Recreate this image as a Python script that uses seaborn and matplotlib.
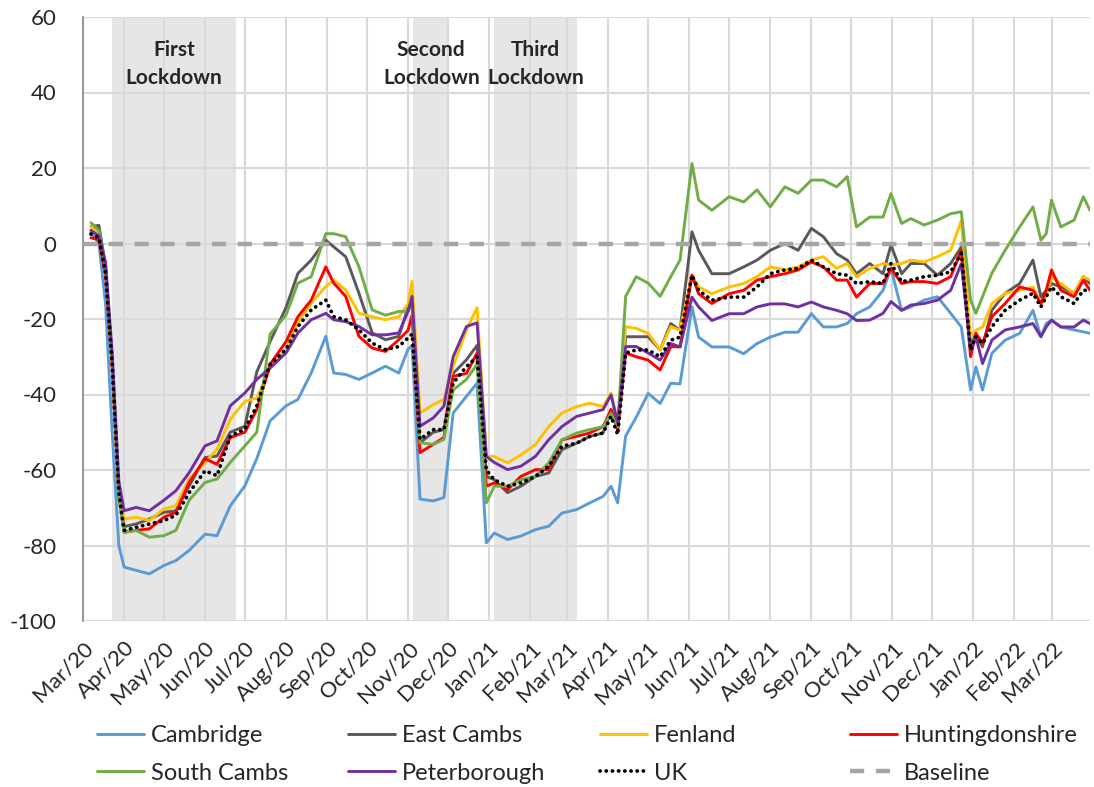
import matplotlib
matplotlib.use("Agg")
import pandas as pd
import seaborn as sns
import matplotlib.pyplot as plt
import matplotlib.dates as mdates

# Mobility change vs baseline (%)
dates = pd.to_datetime([
    "2020-03-07", "2020-03-13", "2020-03-18", "2020-03-23", "2020-03-28", "2020-04-01",
    "2020-04-10", "2020-04-20", "2020-05-01", "2020-05-10", "2020-05-20", "2020-06-01",
    "2020-06-10", "2020-06-20", "2020-07-01", "2020-07-10", "2020-07-20", "2020-08-01",
    "2020-08-10", "2020-08-20", "2020-08-31", "2020-09-06", "2020-09-15", "2020-09-25",
    "2020-10-05", "2020-10-15", "2020-10-25", "2020-11-01", "2020-11-04", "2020-11-10",
    "2020-11-20", "2020-11-28", "2020-12-05", "2020-12-15", "2020-12-23", "2020-12-30",
    "2021-01-05", "2021-01-15", "2021-01-25", "2021-02-05", "2021-02-15", "2021-02-25",
    "2021-03-08", "2021-03-18", "2021-03-28", "2021-04-03", "2021-04-08", "2021-04-14",
    "2021-04-22", "2021-05-01", "2021-05-10", "2021-05-18", "2021-05-25", "2021-06-03",
    "2021-06-08", "2021-06-18", "2021-07-01", "2021-07-12", "2021-07-22", "2021-08-01",
    "2021-08-12", "2021-08-22", "2021-09-01", "2021-09-10", "2021-09-20", "2021-09-28",
    "2021-10-05", "2021-10-15", "2021-10-25", "2021-10-31", "2021-11-08", "2021-11-15",
    "2021-11-25", "2021-12-05", "2021-12-15", "2021-12-23", "2021-12-30", "2022-01-03",
    "2022-01-08", "2022-01-15", "2022-01-25", "2022-02-05", "2022-02-15", "2022-02-21",
    "2022-02-25", "2022-03-01", "2022-03-08", "2022-03-18", "2022-03-25", "2022-03-30",
])

cambridge = [3, 0, -16, -50, -80, -85.7, -86.6, -87.5, -85.3, -84, -81.3, -77,
             -77.4, -69.5, -64.2, -57, -47, -43, -41.3, -34.3, -24.6, -34.3, -34.7, -36,
             -34.3, -32.5, -34.3, -28, -27, -67.7, -68.2, -67.3, -44.9, -40.5, -37, -79.3,
             -76.7, -78.4, -77.5, -75.8, -74.9, -71.4, -70.5, -68.7, -67, -64.3, -68.7, -51,
             -46, -39.7, -42.4, -37, -37.2, -16.8, -24.8, -27.4, -27.4, -29.2, -26.5, -24.8,
             -23.5, -23.5, -18.6, -22.1, -22.1, -21.2, -18.6, -16.8, -12.4, -6.6, -17.7, -16.8,
             -15, -14.1, -18.5, -22.1, -38.8, -32.7, -38.8, -29.1, -25.6, -23.8, -17.7, -24.7,
             -21.2, -20.3, -22.1, -22.9, -23.4, -23.8]
east_cambs = [4.5, 4.8, -6, -31, -66, -75, -74.3, -73, -71.2, -70.8, -64.2, -56.7,
              -56.3, -50, -48.4, -34, -26, -17, -7.9, -4.4, 0.9, -0.9, -3.5, -13.2,
              -23.7, -25.5, -24.6, -17, -15, -52.8, -50, -49.3, -34.4, -30.8, -27, -61.7,
              -62.6, -66, -64.3, -61.7, -60.8, -54.6, -52.9, -51.1, -50.2, -44, -49.3, -24.7,
              -24.7, -24.7, -28.2, -21.2, -23, 3.1, -1.8, -8, -8, -6.2, -4.4, -1.8,
              0, -1.8, 4, 1.8, -2.7, -4.4, -8, -5.3, -8, -0.4, -8, -5.3,
              -5.3, -8.4, -5.3, -0.9, -27.4, -23.8, -27.4, -17.7, -13.2, -10.6, -4.4, -14.1,
              -12.4, -10.6, -11.5, -13.2, -8.8, -10.6]
fenland = [4.5, 3, -6, -31, -65, -73, -72.5, -73.4, -70.3, -69.5, -62.4, -58,
           -54.5, -46.6, -41.8, -41, -33, -28, -21, -15.8, -11.4, -9.7, -12.3, -18.5,
           -19.4, -20.2, -19.4, -16, -10, -44.9, -42.7, -41.3, -32.6, -22.9, -17, -56.4,
           -56.4, -58.1, -56, -53.3, -48.5, -44.9, -43.2, -42.3, -43.2, -39.6, -47.5, -22,
           -22.5, -23.8, -28.2, -22, -23, -8.4, -11.5, -13.3, -11.5, -10.6, -8.8, -6.2,
           -7, -6.2, -4.4, -3.5, -6.6, -5.3, -8.8, -6.6, -5.3, -5.7, -5.3, -4.4,
           -4.9, -3.5, -1.8, 6, -24.7, -23, -22.1, -15.9, -13.2, -12.4, -11.5, -15.9,
           -14.1, -8.8, -10.6, -13.2, -8.8, -9.7]
huntingdonshire = [1.5, 1, -8, -33, -67, -76.5, -76, -75.6, -72.5, -71.2, -63.3, -57,
                   -58.5, -51.4, -50, -44, -32, -26, -19.4, -15, -6.2, -10.5, -14, -24.6,
                   -27.7, -28.6, -25.5, -23, -19, -55.4, -53.2, -51.4, -35.2, -34.4, -29, -64.3,
                   -63.4, -65.2, -61.7, -59.9, -59.9, -52, -51.1, -50.2, -48.5, -44, -49.3, -29,
                   -30, -30.9, -33.5, -27.3, -27.4, -8.4, -13.3, -15.9, -13.3, -12.4, -9.7, -8.8,
                   -8, -7, -4.9, -6.2, -9.7, -9.7, -14.2, -10.6, -10.6, -6.6, -10.6, -10.1,
                   -10.1, -10.6, -8.8, -1.8, -30, -23.8, -26.5, -19.4, -15.9, -11.5, -12.4, -15.9,
                   -12.4, -7, -12.4, -14.1, -9.7, -12.4]
south_cambs = [5.5, 3.5, -6, -32, -67, -76.5, -76, -77.8, -77.4, -76, -68, -63.3,
               -62.4, -58, -53.6, -50, -24, -19, -10.5, -8.8, 2.6, 2.6, 1.8, -6.2,
               -17.6, -19, -18, -18, -16, -52.8, -53.2, -51.9, -38.8, -36, -32, -68.7,
               -64.3, -64.3, -62.6, -61.7, -58.1, -52, -50.2, -49.3, -48.5, -45, -48.5, -14,
               -8.8, -10.5, -14, -8.8, -4.4, 21.2, 11.5, 8.8, 12.4, 11, 14.2, 9.7,
               15, 13.3, 16.8, 16.8, 15, 17.7, 4.4, 7, 7, 13.2, 5.3, 6.6,
               4.9, 6.2, 7.9, 8.4, -15, -18.5, -14.1, -7.9, -1.8, 4.4, 9.7, 0.9,
               2.6, 11.5, 4.4, 6.2, 12.4, 8.8]
peterborough = [3.5, 2, -5, -29, -63, -70.8, -69.9, -70.8, -68, -65.5, -60.7, -53.6,
                -52.3, -43, -39.6, -36, -33, -29, -23.7, -20.2, -18.5, -20.2, -20.7, -22,
                -24.2, -24.2, -23.7, -18, -14, -48.4, -46.2, -43.1, -30, -22, -21, -56.4,
                -58, -59.9, -59, -56.4, -52, -48.5, -45.8, -44.9, -44, -40.1, -47.5, -27.3,
                -27.3, -29, -30.9, -26.5, -27.4, -14.2, -16.8, -20.4, -18.6, -18.6, -16.8, -16,
                -16, -16.8, -15.5, -16.8, -17.7, -18.6, -20.4, -20.3, -18.5, -15.4, -17.7, -16.3,
                -15.9, -15, -12.4, -5.3, -28.2, -24.7, -31.8, -25.6, -22.9, -22.1, -21.2, -24.7,
                -22.1, -20.3, -22.1, -22.1, -20.3, -21.2]
uk = [2.5, 1.5, -8, -32, -66, -76, -75.2, -74.3, -73.4, -72, -66, -60.2,
      -61.5, -51, -49.2, -43, -32, -28, -22, -17.6, -15, -19.4, -20.2, -22.9,
      -26.4, -28.1, -27.3, -25, -24, -51.9, -49.3, -49.3, -37, -32.6, -30, -60,
      -62.6, -64.3, -63.4, -61.7, -59, -53.7, -52.9, -51.1, -50.2, -45.8, -50.6, -29,
      -28.2, -28.2, -30, -25.6, -24.8, -8.4, -12.4, -15, -14.2, -14.2, -11.5, -8,
      -7, -6.6, -4.4, -6.2, -8, -8.4, -10.6, -10.1, -10.6, -5.3, -10.1, -9.7,
      -8.8, -8.4, -7.5, -2.6, -28.2, -24.7, -26.5, -22.1, -17.7, -15, -13.2, -16.8,
      -14.1, -11.5, -14.1, -15.9, -12.4, -12.4]
baseline = 0

names = ["Cambridge", "East Cambs", "Fenland", "Huntingdonshire", "South Cambs", "Peterborough", "UK"]
values = [cambridge, east_cambs, fenland, huntingdonshire, south_cambs, peterborough, uk]
colors = ["#5B9BD5", "#595959", "#FFC000", "#FF0000", "#70AD47", "#7030A0", "black"]

lockdowns = [("First\nLockdown", "2020-03-23", "2020-06-24"),
             ("Second\nLockdown", "2020-11-05", "2020-12-02"),
             ("Third\nLockdown", "2021-01-05", "2021-03-08")]

sns.set_style("white")
plt.rcParams['font.family'] = ['Lato', 'DejaVu Sans']
plt.rcParams['axes.unicode_minus'] = False

fig = plt.figure(figsize=(10.94, 7.87), dpi=100)
ax = fig.add_axes([83 / 1094, 1 - 621 / 787, 1007 / 1094, 604 / 787])

# shaded lockdown periods + labels
for label, start, end in lockdowns:
    s, e = pd.Timestamp(start), pd.Timestamp(end)
    ax.axvspan(s, e, color="#E7E6E6", lw=0, zorder=0)
    ax.text(s + (e - s) / 2, 47.5, label, ha="center", va="center",
            fontsize=15, fontweight="bold", linespacing=1.5, zorder=5)

handles = {}
for name, vals, col in zip(names, values, colors):
    df = pd.DataFrame({"date": dates, "value": vals})
    sns.lineplot(data=df, x="date", y="value", color=col, ax=ax, label=name,
                 lw=2.7 if name == "UK" else 2.1, zorder=3)
    handles[name] = ax.lines[-1]

uk_line = handles["UK"]
uk_line.set_dashes([0.05, 1.6])
uk_line.set_dash_capstyle("round")

handles["Baseline"] = ax.axhline(baseline, color="#A5A5A5", lw=3.2, dashes=(3.2, 2.6),
                                 label="Baseline", zorder=4)

if ax.get_legend() is not None:
    ax.get_legend().remove()

# axes styling
ax.set_xlim(pd.Timestamp("2020-03-01"), pd.Timestamp("2022-03-30"))
ax.set_ylim(-100, 60)
ax.set_yticks(range(-100, 61, 20))
ax.xaxis.set_major_locator(mdates.MonthLocator())
ax.xaxis.set_major_formatter(mdates.DateFormatter("%b/%y"))
ax.grid(True, color="#D9D9D9", lw=1.5, zorder=1)
ax.set_axisbelow(True)
ax.set_xlabel("")
ax.set_ylabel("")
for side in ["top", "right", "bottom"]:
    ax.spines[side].set_visible(False)
ax.spines["left"].set_color("#868686")
ax.spines["left"].set_linewidth(1.2)
ax.tick_params(axis="y", length=6, width=1.2, color="#868686", pad=13, labelsize=16)
ax.tick_params(axis="x", length=0, pad=12, labelsize=16)
for lab in ax.get_xticklabels():
    lab.set_rotation(45)
    lab.set_ha("right")
    lab.set_rotation_mode("anchor")

# legend laid out as 4 equal-width columns (2 rows)
row1 = ["Cambridge", "East Cambs", "Fenland", "Huntingdonshire"]
row2 = ["South Cambs", "Peterborough", "UK", "Baseline"]
col_x = [97, 348, 600, 850]
for x0, a, b in zip(col_x, row1, row2):
    fig.legend(handles=[handles[a], handles[b]], labels=[a, b], loc="upper left",
               bbox_to_anchor=(x0 / 1094, 1 - 725 / 787), frameon=False,
               borderpad=0, borderaxespad=0, handlelength=2.0, handletextpad=0.3,
               labelspacing=0.7, fontsize=17)

fig.savefig("out.png", dpi=100)
